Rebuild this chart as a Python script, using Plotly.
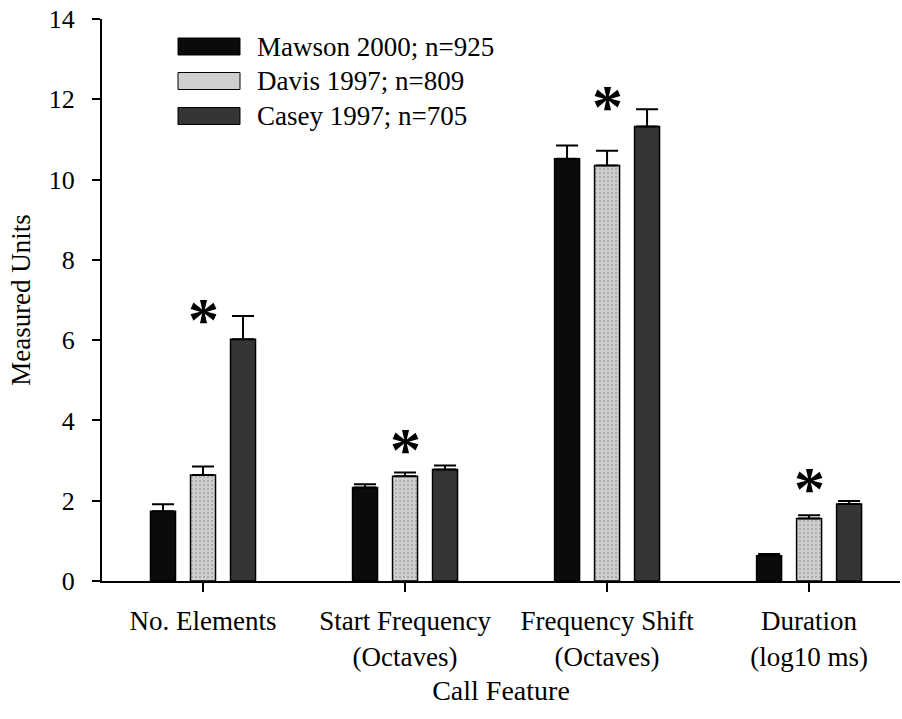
import plotly.graph_objects as go

categories = ["No. Elements", "Start Frequency<br>(Octaves)", "Frequency Shift<br>(Octaves)", "Duration<br>(log10 ms)"]
series_names = ["Mawson 2000; n=925", "Davis 1997; n=809", "Casey 1997; n=705"]
mawson = [1.74, 2.33, 10.52, 0.63]
davis = [2.64, 2.61, 10.35, 1.56]
casey = [6.02, 2.78, 11.32, 1.92]
mawson_err = [0.17, 0.08, 0.33, 0.04]
davis_err = [0.21, 0.09, 0.37, 0.08]
casey_err = [0.58, 0.10, 0.43, 0.07]
asterisk_y = [6.67, 3.44, 11.98, 2.47]
y_ticks = [0, 2, 4, 6, 8, 10, 12, 14]

colors = ["#0b0b0b", "#cfcfcf", "#353535"]
FONT = "Liberation Serif, Times New Roman, serif"

FIG_W, FIG_H = 902, 719

fig = go.Figure()
for name, vals, errs, col in zip(series_names, [mawson, davis, casey],
                                 [mawson_err, davis_err, casey_err], colors):
    fig.add_trace(go.Bar(
        x=categories, y=vals, name=name,
        marker=dict(color=col, line=dict(color="#000000", width=1.5),
                    pattern=dict(shape="." if col == "#cfcfcf" else "",
                                 fgcolor="#8a8a8a", bgcolor=col, size=4, solidity=0.25)),
        error_y=dict(type="data", symmetric=False, array=errs,
                     arrayminus=[0] * len(errs), color="#000000",
                     thickness=2, width=11),
        showlegend=False,
    ))

for cat, ay in zip(categories, asterisk_y):
    fig.add_annotation(x=cat, y=ay, text="<b>*</b>", showarrow=False,
                       font=dict(family=FONT, size=62, color="#000000"),
                       yanchor="middle", yshift=-6)

# plot area in page pixels
L, R, T, B = 102, 900, 19, 581
W, H = R - L, B - T
def px(x):
    return (x - L) / W
def py(y):
    return (B - y) / H
row_centers = [46.5, 81, 116]
for name, col, rc in zip(series_names, colors, row_centers):
    fig.add_shape(type="rect", xref="paper", yref="paper",
                  x0=px(178), x1=px(240), y0=py(rc + 8.5), y1=py(rc - 8.5),
                  fillcolor=col, line=dict(color="#000000", width=1))
    fig.add_annotation(xref="paper", yref="paper", x=px(255), y=py(rc),
                       text=name, showarrow=False, xanchor="left", yanchor="middle",
                       font=dict(family=FONT, size=27, color="#000000"))

fig.update_layout(
    width=FIG_W, height=FIG_H,
    margin=dict(l=L, r=FIG_W - R, t=T, b=FIG_H - B),
    paper_bgcolor="white", plot_bgcolor="white",
    barmode="group", bargap=0.406, bargroupgap=0.375,
    font=dict(family=FONT, size=25, color="#000000"),
    xaxis=dict(range=[-0.5, 3.45], showline=True, linecolor="#000000", linewidth=2,
               ticks="outside", ticklen=9, tickwidth=2, tickcolor="#000000",
               showgrid=False, zeroline=False, automargin=False, ticklabelstandoff=6,
               tickfont=dict(family=FONT, size=27),
               title=dict(text="Call Feature", font=dict(family=FONT, size=28), standoff=10)),
    yaxis=dict(range=[0, 14], tickvals=y_ticks, showline=True, linecolor="#000000",
               linewidth=2, ticks="outside", ticklen=8, tickwidth=2, tickcolor="#000000",
               showgrid=False, zeroline=False, ticklabelstandoff=12, automargin=False,
               ticklabeloverflow="allow",
               tickfont=dict(family=FONT, size=26),
               title=dict(text="Measured Units", font=dict(family=FONT, size=27), standoff=10)),
)

fig.write_html("out.html", config={"displayModeBar": False},
               post_script="document.body.style.margin='0';document.body.style.overflow='hidden';")
